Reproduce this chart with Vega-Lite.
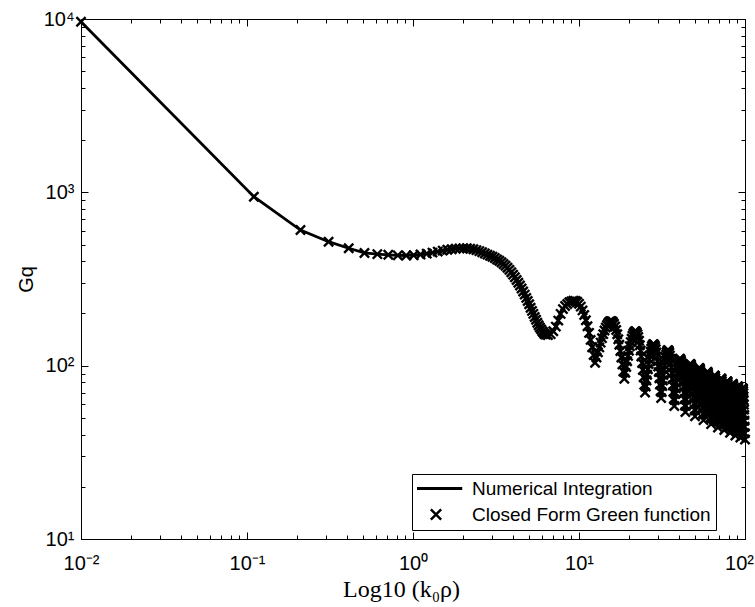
{
  "$schema": "https://vega.github.io/schema/vega-lite/v6.json",
  "width": 664,
  "height": 520,
  "autosize": {"type": "none"},
  "padding": {"left": 81, "top": 19, "right": 10, "bottom": 68},
  "background": "white",
  "config": {"view": {"stroke": "black", "strokeWidth": 1}},
  "data": {"values": [
    {"k":0.01,"Gq":9650},{"k":0.11,"Gq":944},{"k":0.21,"Gq":606},{"k":0.31,"Gq":519},{"k":0.41,"Gq":476},{"k":0.51,"Gq":447},{"k":0.61,"Gq":440},{"k":0.71,"Gq":436},{"k":0.81,"Gq":433},{"k":0.91,"Gq":432},
    {"k":1.01,"Gq":434},{"k":1.11,"Gq":438},{"k":1.21,"Gq":443},{"k":1.31,"Gq":449},{"k":1.41,"Gq":455},{"k":1.51,"Gq":461},{"k":1.61,"Gq":466},{"k":1.71,"Gq":470},{"k":1.81,"Gq":473},{"k":1.91,"Gq":475},
    {"k":2.01,"Gq":476},{"k":2.11,"Gq":476},{"k":2.21,"Gq":473},{"k":2.31,"Gq":469},{"k":2.41,"Gq":464},{"k":2.51,"Gq":458},{"k":2.61,"Gq":451},{"k":2.71,"Gq":444},{"k":2.81,"Gq":437},{"k":2.91,"Gq":431},
    {"k":3.01,"Gq":425},{"k":3.11,"Gq":418},{"k":3.21,"Gq":410},{"k":3.31,"Gq":403},{"k":3.41,"Gq":395},{"k":3.51,"Gq":386},{"k":3.61,"Gq":377},{"k":3.71,"Gq":367},{"k":3.81,"Gq":357},{"k":3.91,"Gq":346},
    {"k":4.01,"Gq":335},{"k":4.11,"Gq":324},{"k":4.21,"Gq":312},{"k":4.31,"Gq":301},{"k":4.41,"Gq":290},{"k":4.51,"Gq":279},{"k":4.61,"Gq":268},{"k":4.71,"Gq":257},{"k":4.81,"Gq":246},{"k":4.91,"Gq":236},
    {"k":5.01,"Gq":226},{"k":5.11,"Gq":216},{"k":5.21,"Gq":207},{"k":5.31,"Gq":199},{"k":5.41,"Gq":191},{"k":5.51,"Gq":184},{"k":5.61,"Gq":177},{"k":5.71,"Gq":171},{"k":5.81,"Gq":166},{"k":5.91,"Gq":162},
    {"k":6.01,"Gq":158},{"k":6.11,"Gq":155},{"k":6.21,"Gq":152},{"k":6.31,"Gq":151},
    {"k":6.5,"Gq":150},{"k":6.75,"Gq":152},{"k":7.0,"Gq":158},{"k":7.25,"Gq":168},{"k":7.5,"Gq":182},{"k":7.75,"Gq":199},{"k":8.0,"Gq":212},{"k":8.25,"Gq":221},{"k":8.5,"Gq":227},{"k":8.75,"Gq":232},{"k":9.0,"Gq":235},{"k":9.25,"Gq":237},
    {"k":9.5,"Gq":236.6},{"k":9.75,"Gq":233.6},{"k":10.0,"Gq":227.6},{"k":10.25,"Gq":219.1},{"k":10.5,"Gq":208.4},{"k":10.75,"Gq":196.2},{"k":11.0,"Gq":182.7},{"k":11.25,"Gq":168.8},{"k":11.5,"Gq":154.6},{"k":11.75,"Gq":140.8},{"k":12.0,"Gq":127.6},{"k":12.25,"Gq":115.3},
    {"k":12.5,"Gq":104},{"k":12.75,"Gq":111.5},{"k":13.0,"Gq":119.4},{"k":13.25,"Gq":127.5},{"k":13.5,"Gq":135.8},{"k":13.75,"Gq":144.1},{"k":14.0,"Gq":152.0},{"k":14.25,"Gq":159.4},{"k":14.5,"Gq":166.0},{"k":14.75,"Gq":171.7},{"k":15.0,"Gq":176.2},{"k":15.25,"Gq":179.2},{"k":15.5,"Gq":180.8},
    {"k":15.75,"Gq":180.7},{"k":16.0,"Gq":178.6},{"k":16.25,"Gq":174.3},{"k":16.5,"Gq":168.3},{"k":16.75,"Gq":160.6},{"k":17.0,"Gq":151.8},{"k":17.25,"Gq":142.1},{"k":17.5,"Gq":131.9},{"k":17.75,"Gq":121.6},{"k":18.0,"Gq":111.4},{"k":18.25,"Gq":101.7},{"k":18.5,"Gq":92.5},
    {"k":18.75,"Gq":84},{"k":19.0,"Gq":90.9},{"k":19.25,"Gq":98.3},{"k":19.5,"Gq":106.0},{"k":19.75,"Gq":113.9},{"k":20.0,"Gq":121.8},{"k":20.25,"Gq":129.4},{"k":20.5,"Gq":136.7},{"k":20.75,"Gq":143.2},{"k":21.0,"Gq":148.8},{"k":21.25,"Gq":153.2},{"k":21.5,"Gq":156.2},{"k":21.75,"Gq":157.8},
    {"k":22.0,"Gq":157.8},{"k":22.25,"Gq":155.7},{"k":22.5,"Gq":151.8},{"k":22.75,"Gq":146.2},{"k":23.0,"Gq":139.2},{"k":23.25,"Gq":131.1},{"k":23.5,"Gq":122.2},{"k":23.75,"Gq":112.9},{"k":24.0,"Gq":103.6},{"k":24.25,"Gq":94.5},{"k":24.5,"Gq":85.7},{"k":24.75,"Gq":77.5},
    {"k":25.0,"Gq":70},{"k":25.25,"Gq":75.9},{"k":25.5,"Gq":82.1},{"k":25.75,"Gq":88.6},{"k":26.0,"Gq":95.4},{"k":26.25,"Gq":102.1},{"k":26.5,"Gq":108.6},{"k":26.75,"Gq":114.8},{"k":27.0,"Gq":120.4},{"k":27.25,"Gq":125.2},{"k":27.5,"Gq":128.9},{"k":27.75,"Gq":131.5},{"k":28.0,"Gq":132.8},
    {"k":28.25,"Gq":132.8},{"k":28.5,"Gq":131.3},{"k":28.75,"Gq":128.4},{"k":29.0,"Gq":124.3},{"k":29.25,"Gq":119.0},{"k":29.5,"Gq":112.8},{"k":29.75,"Gq":106.1},{"k":30.0,"Gq":99.0},{"k":30.25,"Gq":91.8},{"k":30.5,"Gq":84.6},{"k":30.75,"Gq":77.7},{"k":31.0,"Gq":71.1},
    {"k":31.25,"Gq":65},{"k":31.5,"Gq":70.4},{"k":31.75,"Gq":76.2},{"k":32.0,"Gq":82.2},{"k":32.25,"Gq":88.4},{"k":32.5,"Gq":94.6},{"k":32.75,"Gq":100.6},{"k":33.0,"Gq":106.2},{"k":33.25,"Gq":111.4},{"k":33.5,"Gq":115.7},{"k":33.75,"Gq":119.2},{"k":34.0,"Gq":121.6},{"k":34.25,"Gq":122.8},
    {"k":34.5,"Gq":122.8},{"k":34.75,"Gq":121.4},{"k":35.0,"Gq":118.6},{"k":35.25,"Gq":114.6},{"k":35.5,"Gq":109.6},{"k":35.75,"Gq":103.7},{"k":36.0,"Gq":97.3},{"k":36.25,"Gq":90.6},{"k":36.5,"Gq":83.7},{"k":36.75,"Gq":76.9},{"k":37.0,"Gq":70.4},{"k":37.25,"Gq":64.2},
    {"k":37.5,"Gq":58.5},{"k":37.75,"Gq":63.4},{"k":38.0,"Gq":68.7},{"k":38.25,"Gq":74.1},{"k":38.5,"Gq":79.7},{"k":38.75,"Gq":85.3},{"k":39.0,"Gq":90.7},{"k":39.25,"Gq":95.8},{"k":39.5,"Gq":100.3},{"k":39.75,"Gq":104.1},{"k":40.0,"Gq":107.0},{"k":40.25,"Gq":108.9},{"k":40.5,"Gq":109.7},
    {"k":40.75,"Gq":109.3},{"k":41.0,"Gq":107.9},{"k":41.25,"Gq":105.3},{"k":41.5,"Gq":101.8},{"k":41.75,"Gq":97.4},{"k":42.0,"Gq":92.4},{"k":42.25,"Gq":87.0},{"k":42.5,"Gq":81.3},{"k":42.75,"Gq":75.5},{"k":43.0,"Gq":69.8},{"k":43.25,"Gq":64.2},{"k":43.5,"Gq":58.9},
    {"k":43.75,"Gq":54},{"k":44.0,"Gq":58.6},{"k":44.25,"Gq":63.5},{"k":44.5,"Gq":68.6},{"k":44.75,"Gq":73.9},{"k":45.0,"Gq":79.1},{"k":45.25,"Gq":84.1},{"k":45.5,"Gq":88.9},{"k":45.75,"Gq":93.2},{"k":46.0,"Gq":96.8},{"k":46.25,"Gq":99.6},{"k":46.5,"Gq":101.5},{"k":46.75,"Gq":102.3},
    {"k":47.0,"Gq":102.1},{"k":47.25,"Gq":100.8},{"k":47.5,"Gq":98.5},{"k":47.75,"Gq":95.3},{"k":48.0,"Gq":91.3},{"k":48.25,"Gq":86.7},{"k":48.5,"Gq":81.7},{"k":48.75,"Gq":76.4},{"k":49.0,"Gq":71.0},{"k":49.25,"Gq":65.7},{"k":49.5,"Gq":60.5},{"k":49.75,"Gq":55.6},
    {"k":50.0,"Gq":51},{"k":50.25,"Gq":55.3},{"k":50.5,"Gq":60.0},{"k":50.75,"Gq":64.8},{"k":51.0,"Gq":69.8},{"k":51.25,"Gq":74.8},{"k":51.5,"Gq":79.6},{"k":51.75,"Gq":84.2},{"k":52.0,"Gq":88.2},{"k":52.25,"Gq":91.7},{"k":52.5,"Gq":94.4},{"k":52.75,"Gq":96.2},{"k":53.0,"Gq":97.0},
    {"k":53.25,"Gq":96.8},{"k":53.5,"Gq":95.6},{"k":53.75,"Gq":93.4},{"k":54.0,"Gq":90.4},{"k":54.25,"Gq":86.6},{"k":54.5,"Gq":82.3},{"k":54.75,"Gq":77.5},{"k":55.0,"Gq":72.6},{"k":55.25,"Gq":67.5},{"k":55.5,"Gq":62.4},{"k":55.75,"Gq":57.5},{"k":56.0,"Gq":52.8},
    {"k":56.25,"Gq":48.5},{"k":56.5,"Gq":52.6},{"k":56.75,"Gq":57.0},{"k":57.0,"Gq":61.6},{"k":57.25,"Gq":66.4},{"k":57.5,"Gq":71.1},{"k":57.75,"Gq":75.6},{"k":58.0,"Gq":80.0},{"k":58.25,"Gq":83.8},{"k":58.5,"Gq":87.1},{"k":58.75,"Gq":89.6},{"k":59.0,"Gq":91.3},{"k":59.25,"Gq":92.1},
    {"k":59.5,"Gq":91.9},{"k":59.75,"Gq":90.8},{"k":60.0,"Gq":88.7},{"k":60.25,"Gq":85.8},{"k":60.5,"Gq":82.2},{"k":60.75,"Gq":78.1},{"k":61.0,"Gq":73.6},{"k":61.25,"Gq":68.9},{"k":61.5,"Gq":64.0},{"k":61.75,"Gq":59.2},{"k":62.0,"Gq":54.6},{"k":62.25,"Gq":50.1},
    {"k":62.5,"Gq":46},{"k":62.75,"Gq":49.9},{"k":63.0,"Gq":54.1},{"k":63.25,"Gq":58.5},{"k":63.5,"Gq":63.0},{"k":63.75,"Gq":67.5},{"k":64.0,"Gq":71.9},{"k":64.25,"Gq":76.0},{"k":64.5,"Gq":79.7},{"k":64.75,"Gq":82.9},{"k":65.0,"Gq":85.3},{"k":65.25,"Gq":86.9},{"k":65.5,"Gq":87.7},
    {"k":65.75,"Gq":87.5},{"k":66.0,"Gq":86.5},{"k":66.25,"Gq":84.5},{"k":66.5,"Gq":81.8},{"k":66.75,"Gq":78.4},{"k":67.0,"Gq":74.5},{"k":67.25,"Gq":70.2},{"k":67.5,"Gq":65.8},{"k":67.75,"Gq":61.2},{"k":68.0,"Gq":56.6},{"k":68.25,"Gq":52.2},{"k":68.5,"Gq":47.9},
    {"k":68.75,"Gq":44},{"k":69.0,"Gq":47.8},{"k":69.25,"Gq":51.8},{"k":69.5,"Gq":56.0},{"k":69.75,"Gq":60.4},{"k":70.0,"Gq":64.7},{"k":70.25,"Gq":68.9},{"k":70.5,"Gq":72.9},{"k":70.75,"Gq":76.5},{"k":71.0,"Gq":79.5},{"k":71.25,"Gq":81.9},{"k":71.5,"Gq":83.5},{"k":71.75,"Gq":84.3},
    {"k":72.0,"Gq":84.1},{"k":72.25,"Gq":83.2},{"k":72.5,"Gq":81.3},{"k":72.75,"Gq":78.8},{"k":73.0,"Gq":75.5},{"k":73.25,"Gq":71.8},{"k":73.5,"Gq":67.7},{"k":73.75,"Gq":63.4},{"k":74.0,"Gq":59.0},{"k":74.25,"Gq":54.6},{"k":74.5,"Gq":50.3},{"k":74.75,"Gq":46.3},
    {"k":75.0,"Gq":42.5},{"k":75.25,"Gq":46.1},{"k":75.5,"Gq":50.1},{"k":75.75,"Gq":54.1},{"k":76.0,"Gq":58.3},{"k":76.25,"Gq":62.5},{"k":76.5,"Gq":66.5},{"k":76.75,"Gq":70.4},{"k":77.0,"Gq":73.8},{"k":77.25,"Gq":76.8},{"k":77.5,"Gq":79.1},{"k":77.75,"Gq":80.6},{"k":78.0,"Gq":81.3},
    {"k":78.25,"Gq":81.2},{"k":78.5,"Gq":80.3},{"k":78.75,"Gq":78.5},{"k":79.0,"Gq":76.0},{"k":79.25,"Gq":72.9},{"k":79.5,"Gq":69.3},{"k":79.75,"Gq":65.3},{"k":80.0,"Gq":61.2},{"k":80.25,"Gq":56.9},{"k":80.5,"Gq":52.7},{"k":80.75,"Gq":48.6},{"k":81.0,"Gq":44.6},
    {"k":81.25,"Gq":41},{"k":81.5,"Gq":44.5},{"k":81.75,"Gq":48.3},{"k":82.0,"Gq":52.2},{"k":82.25,"Gq":56.2},{"k":82.5,"Gq":60.3},{"k":82.75,"Gq":64.2},{"k":83.0,"Gq":67.9},{"k":83.25,"Gq":71.2},{"k":83.5,"Gq":74.0},{"k":83.75,"Gq":76.2},{"k":84.0,"Gq":77.7},{"k":84.25,"Gq":78.4},
    {"k":84.5,"Gq":78.3},{"k":84.75,"Gq":77.4},{"k":85.0,"Gq":75.7},{"k":85.25,"Gq":73.3},{"k":85.5,"Gq":70.2},{"k":85.75,"Gq":66.8},{"k":86.0,"Gq":62.9},{"k":86.25,"Gq":58.9},{"k":86.5,"Gq":54.8},{"k":86.75,"Gq":50.8},{"k":87.0,"Gq":46.8},{"k":87.25,"Gq":43.0},
    {"k":87.5,"Gq":39.5},{"k":87.75,"Gq":42.9},{"k":88.0,"Gq":46.6},{"k":88.25,"Gq":50.4},{"k":88.5,"Gq":54.3},{"k":88.75,"Gq":58.2},{"k":89.0,"Gq":62.0},{"k":89.25,"Gq":65.6},{"k":89.5,"Gq":68.8},{"k":89.75,"Gq":71.6},{"k":90.0,"Gq":73.8},{"k":90.25,"Gq":75.3},{"k":90.5,"Gq":76.0},
    {"k":90.75,"Gq":75.9},{"k":91.0,"Gq":75.0},{"k":91.25,"Gq":73.4},{"k":91.5,"Gq":71.1},{"k":91.75,"Gq":68.2},{"k":92.0,"Gq":64.9},{"k":92.25,"Gq":61.2},{"k":92.5,"Gq":57.3},{"k":92.75,"Gq":53.4},{"k":93.0,"Gq":49.4},{"k":93.25,"Gq":45.6},{"k":93.5,"Gq":41.9},
    {"k":93.75,"Gq":38.5},{"k":94.0,"Gq":41.8},{"k":94.25,"Gq":45.4},{"k":94.5,"Gq":49.1},{"k":94.75,"Gq":52.9},{"k":95.0,"Gq":56.7},{"k":95.25,"Gq":60.4},{"k":95.5,"Gq":63.9},{"k":95.75,"Gq":67.1},{"k":96.0,"Gq":69.8},{"k":96.25,"Gq":71.9},{"k":96.5,"Gq":73.3},{"k":96.75,"Gq":74.0},
    {"k":97.0,"Gq":73.9},{"k":97.25,"Gq":73.1},{"k":97.5,"Gq":71.5},{"k":97.75,"Gq":69.3},{"k":98.0,"Gq":66.4},{"k":98.25,"Gq":63.2},{"k":98.5,"Gq":59.6},{"k":98.75,"Gq":55.8},{"k":99.0,"Gq":52.0},{"k":99.25,"Gq":48.1},{"k":99.5,"Gq":44.4},{"k":99.75,"Gq":40.8},
    {"k":100,"Gq":37.5}
  ]},
  "layer": [
    {
      "mark": {"type": "line", "strokeWidth": 2.8},
      "encoding": {
        "x": {"field": "k", "type": "quantitative",
          "scale": {"type": "log", "domain": [0.01, 100], "nice": false},
          "axis": {"orient": "bottom", "grid": false,
            "values": [0.01,0.02,0.03,0.04,0.05,0.06,0.07,0.08,0.09,0.1,0.2,0.3,0.4,0.5,0.6,0.7,0.8,0.9,1,2,3,4,5,6,7,8,9,10,20,30,40,50,60,70,80,90,100],
            "labelExpr": "datum.value == 0.01 ? '10⁻²' : datum.value == 0.1 ? '10⁻¹' : datum.value == 1 ? '10⁰' : datum.value == 10 ? '10¹' : datum.value == 100 ? '10²' : ''",
            "tickSize": {"condition": {"test": "datum.value == 0.01 || datum.value == 0.1 || datum.value == 1 || datum.value == 10 || datum.value == 100", "value": -7}, "value": -4},
            "labelOffset": {"condition": {"test": "datum.value == 100", "value": -6}, "value": 0},
            "tickColor": "black", "tickWidth": 1, "domainColor": "black", "domainWidth": 1,
            "labelFont": "Liberation Sans", "labelFontSize": 20, "labelColor": "black", "labelPadding": 21,
            "labelOverlap": false, "labelFlush": false,
            "title": "Log10 (k₀ρ)", "titleFont": "Liberation Serif", "titleFontSize": 24, "titleFontWeight": "normal", "titleColor": "black",
            "titleX": 320, "titleY": 57, "titleBaseline": "alphabetic", "titleAlign": "center"}},
        "y": {"field": "Gq", "type": "quantitative",
          "scale": {"type": "log", "domain": [10, 10000], "nice": false},
          "axis": {"orient": "left", "grid": false,
            "values": [10,20,30,40,50,60,70,80,90,100,200,300,400,500,600,700,800,900,1000,2000,3000,4000,5000,6000,7000,8000,9000,10000],
            "labelExpr": "datum.value == 10 ? '10¹' : datum.value == 100 ? '10²' : datum.value == 1000 ? '10³' : datum.value == 10000 ? '10⁴' : ''",
            "tickSize": {"condition": {"test": "datum.value == 10 || datum.value == 100 || datum.value == 1000 || datum.value == 10000", "value": -7}, "value": -4},
            "tickColor": "black", "tickWidth": 1, "domainColor": "black", "domainWidth": 1,
            "labelFont": "Liberation Sans", "labelFontSize": 20, "labelColor": "black", "labelPadding": 14,
            "labelOverlap": false, "labelFlush": false,
            "title": "Gq", "titleFont": "Liberation Sans", "titleFontSize": 20, "titleFontWeight": "normal", "titleColor": "black",
            "titleX": -49, "titleY": 260, "titleBaseline": "alphabetic", "titleAlign": "center"}},
        "color": {"datum": "Numerical Integration", "type": "nominal",
          "scale": {"domain": ["Numerical Integration", "Closed Form Green function"], "range": ["black", "black"]},
          "legend": {"orient": "none", "legendX": 331, "legendY": 455, "title": null,
            "strokeColor": "black", "fillColor": "white", "padding": 5,
            "symbolOffset": 9.5, "symbolSize": 1444, "labelOffset": 26.5, "clipHeight": 19, "rowPadding": 6,
            "labelFont": "Liberation Sans", "labelFontSize": 19, "labelColor": "black", "labelLimit": 400,
            "encode": {"symbols": {"update": {
              "shape": {"signal": "datum.value == 'Numerical Integration' ? 'M-1.38,0L1.38,0' : 'M-0.27,-0.27L0.27,0.27M0.27,-0.27L-0.27,0.27'"},
              "strokeWidth": {"signal": "datum.value == 'Numerical Integration' ? 3 : 2.5"},
              "stroke": {"value": "black"},
              "fill": {"value": "transparent"}}}}}}
      }
    },
    {
      "mark": {"type": "point", "shape": "M-1,-1L1,1M1,-1L-1,1", "filled": false, "size": 85, "strokeWidth": 2.4, "opacity": 1},
      "encoding": {
        "x": {"field": "k", "type": "quantitative",
          "scale": {"type": "log", "domain": [0.01, 100], "nice": false},
          "axis": {"orient": "top", "grid": false, "labels": false, "title": null,
            "values": [0.01,0.02,0.03,0.04,0.05,0.06,0.07,0.08,0.09,0.1,0.2,0.3,0.4,0.5,0.6,0.7,0.8,0.9,1,2,3,4,5,6,7,8,9,10,20,30,40,50,60,70,80,90,100],
            "tickSize": {"condition": {"test": "datum.value == 0.01 || datum.value == 0.1 || datum.value == 1 || datum.value == 10 || datum.value == 100", "value": -7}, "value": -4},
            "tickColor": "black", "tickWidth": 1, "domainColor": "black", "domainWidth": 1}},
        "y": {"field": "Gq", "type": "quantitative",
          "scale": {"type": "log", "domain": [10, 10000], "nice": false},
          "axis": {"orient": "right", "grid": false, "labels": false, "title": null,
            "values": [10,20,30,40,50,60,70,80,90,100,200,300,400,500,600,700,800,900,1000,2000,3000,4000,5000,6000,7000,8000,9000,10000],
            "tickSize": {"condition": {"test": "datum.value == 10 || datum.value == 100 || datum.value == 1000 || datum.value == 10000", "value": -7}, "value": -4},
            "tickColor": "black", "tickWidth": 1, "domainColor": "black", "domainWidth": 1}},
        "color": {"datum": "Closed Form Green function", "type": "nominal"}
      }
    }
  ],
  "resolve": {"axis": {"x": "independent", "y": "independent"}}
}
